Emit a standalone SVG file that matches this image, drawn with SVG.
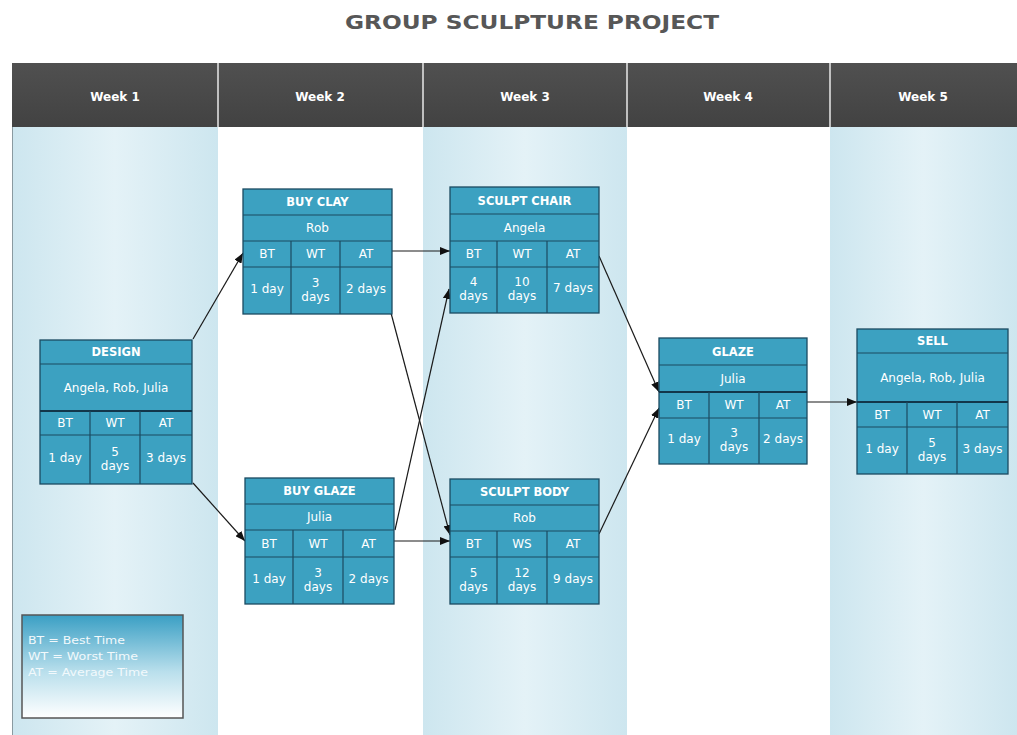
<svg xmlns="http://www.w3.org/2000/svg" width="1017" height="735" viewBox="0 0 1017 735">
<defs>
  <linearGradient id="colbg" x1="0" y1="0" x2="1" y2="0">
    <stop offset="0" stop-color="#cde6ef"/>
    <stop offset="0.5" stop-color="#e4f2f7"/>
    <stop offset="1" stop-color="#cde6ef"/>
  </linearGradient>
  <linearGradient id="legbg" x1="0" y1="0" x2="0" y2="1">
    <stop offset="0" stop-color="#3a9fc4"/>
    <stop offset="0.55" stop-color="#b9dfec"/>
    <stop offset="1" stop-color="#ffffff"/>
  </linearGradient>
  <linearGradient id="hdr" x1="0" y1="0" x2="0" y2="1">
    <stop offset="0" stop-color="#505050"/>
    <stop offset="1" stop-color="#424242"/>
  </linearGradient>
  <marker id="arr" markerUnits="userSpaceOnUse" markerWidth="10" markerHeight="8" refX="10" refY="4" orient="auto">
    <path d="M0,0 L10,4 L0,8 z" fill="#111"/>
  </marker>
</defs>
<style>
  .cell { fill: #3ca1c1; stroke: #1b4a61; stroke-width: 1.3; }
  .ln { stroke: #1b4a61; stroke-width: 1.2; }
  .lnb { stroke: #12364a; stroke-width: 2; }
  .t { fill: #ffffff; font-family: "DejaVu Sans", Verdana, sans-serif; font-size: 12px; text-anchor: middle; }
  .tb { font-weight: bold; font-size: 11.5px; }
  .wk { fill: #ffffff; font-family: "DejaVu Sans", Verdana, sans-serif; font-size: 12px; font-weight: bold; text-anchor: middle; }
  .con { stroke: #1a1a1a; stroke-width: 1.2; fill: none; marker-end: url(#arr); }
  .leg { fill: #f2f9fc; font-family: "DejaVu Sans", Verdana, sans-serif; font-size: 10.5px; }
</style>

<rect x="0" y="0" width="1017" height="735" fill="#ffffff"/>
<text x="532" y="29" fill="#575757" font-family="DejaVu Sans, Verdana, sans-serif" font-size="20" font-weight="bold" text-anchor="middle" textLength="374" lengthAdjust="spacingAndGlyphs">GROUP SCULPTURE PROJECT</text>

<g id="columns">
  <rect x="12" y="127" width="206" height="608" fill="url(#colbg)"/>
  <rect x="218" y="127" width="205" height="608" fill="#ffffff"/>
  <rect x="423" y="127" width="204" height="608" fill="url(#colbg)"/>
  <rect x="627" y="127" width="203" height="608" fill="#ffffff"/>
  <rect x="830" y="127" width="187" height="608" fill="url(#colbg)"/>
  <line x1="12.5" y1="63" x2="12.5" y2="735" stroke="#8a9aa0" stroke-width="1"/>
</g>

<g id="header">
  <rect x="12" y="63" width="1005" height="64" fill="url(#hdr)"/>
  <g stroke="#e8e8e8" stroke-width="1.5">
    <line x1="218" y1="63" x2="218" y2="127"/>
    <line x1="423" y1="63" x2="423" y2="127"/>
    <line x1="627" y1="63" x2="627" y2="127"/>
    <line x1="830" y1="63" x2="830" y2="127"/>
  </g>
  <text class="wk" x="115" y="101">Week 1</text>
  <text class="wk" x="320" y="101">Week 2</text>
  <text class="wk" x="525" y="101">Week 3</text>
  <text class="wk" x="728" y="101">Week 4</text>
  <text class="wk" x="923" y="101">Week 5</text>
</g>

<g id="connectors">
  <line class="con" x1="193" y1="339" x2="243" y2="253"/>
  <line class="con" x1="193" y1="483" x2="245" y2="541"/>
  <line class="con" x1="392" y1="251" x2="450" y2="251"/>
  <line class="con" x1="391" y1="313" x2="450" y2="535"/>
  <line class="con" x1="394" y1="541" x2="450" y2="541"/>
  <line class="con" x1="395" y1="530" x2="449" y2="289"/>
  <line class="con" x1="599" y1="256" x2="659" y2="392"/>
  <line class="con" x1="599" y1="534" x2="659" y2="408"/>
  <line class="con" x1="807" y1="402" x2="857" y2="402"/>
</g>

<g id="design">
  <rect class="cell" x="40" y="340" width="152" height="144"/>
  <line class="ln" x1="40" y1="364" x2="192" y2="364"/>
  <line class="lnb" x1="40" y1="411" x2="192" y2="411"/>
  <line class="ln" x1="40" y1="435" x2="192" y2="435"/>
  <line class="ln" x1="90" y1="411" x2="90" y2="484"/>
  <line class="ln" x1="140" y1="411" x2="140" y2="484"/>
  <text class="t tb" x="116" y="356">DESIGN</text>
  <text class="t" x="116" y="392">Angela, Rob, Julia</text>
  <text class="t" x="65" y="427">BT</text>
  <text class="t" x="115" y="427">WT</text>
  <text class="t" x="166" y="427">AT</text>
  <text class="t" x="65" y="462">1 day</text>
  <text class="t" x="115" y="455.5">5<tspan x="115" dy="14">days</tspan></text>
  <text class="t" x="166" y="462">3 days</text>
</g>

<g id="buy-clay">
  <rect class="cell" x="243" y="189" width="149" height="125"/>
  <line class="ln" x1="243" y1="215" x2="392" y2="215"/>
  <line class="ln" x1="243" y1="241" x2="392" y2="241"/>
  <line class="ln" x1="243" y1="267" x2="392" y2="267"/>
  <line class="ln" x1="291" y1="241" x2="291" y2="314"/>
  <line class="ln" x1="340" y1="241" x2="340" y2="314"/>
  <text class="t tb" x="317.5" y="206">BUY CLAY</text>
  <text class="t" x="317.5" y="232">Rob</text>
  <text class="t" x="267" y="258">BT</text>
  <text class="t" x="315.5" y="258">WT</text>
  <text class="t" x="366" y="258">AT</text>
  <text class="t" x="267" y="292.5">1 day</text>
  <text class="t" x="315.5" y="286.5">3<tspan x="315.5" dy="14">days</tspan></text>
  <text class="t" x="366" y="292.5">2 days</text>
</g>

<g id="sculpt-chair">
  <rect class="cell" x="450" y="187" width="149" height="126"/>
  <line class="ln" x1="450" y1="214" x2="599" y2="214"/>
  <line class="ln" x1="450" y1="241" x2="599" y2="241"/>
  <line class="ln" x1="450" y1="267" x2="599" y2="267"/>
  <line class="ln" x1="497" y1="241" x2="497" y2="313"/>
  <line class="ln" x1="547" y1="241" x2="547" y2="313"/>
  <text class="t tb" x="524.5" y="205">SCULPT CHAIR</text>
  <text class="t" x="524.5" y="232">Angela</text>
  <text class="t" x="473.5" y="258">BT</text>
  <text class="t" x="522" y="258">WT</text>
  <text class="t" x="573" y="258">AT</text>
  <text class="t" x="473.5" y="286">4<tspan x="473.5" dy="14">days</tspan></text>
  <text class="t" x="522" y="286">10<tspan x="522" dy="14">days</tspan></text>
  <text class="t" x="573" y="292">7 days</text>
</g>

<g id="buy-glaze">
  <rect class="cell" x="245" y="478" width="149" height="126"/>
  <line class="ln" x1="245" y1="504" x2="394" y2="504"/>
  <line class="ln" x1="245" y1="530" x2="394" y2="530"/>
  <line class="ln" x1="245" y1="557" x2="394" y2="557"/>
  <line class="ln" x1="293" y1="530" x2="293" y2="604"/>
  <line class="ln" x1="343" y1="530" x2="343" y2="604"/>
  <text class="t tb" x="319.5" y="495">BUY GLAZE</text>
  <text class="t" x="319.5" y="521">Julia</text>
  <text class="t" x="269" y="548">BT</text>
  <text class="t" x="318" y="548">WT</text>
  <text class="t" x="368.5" y="548">AT</text>
  <text class="t" x="269" y="582.5">1 day</text>
  <text class="t" x="318" y="576.5">3<tspan x="318" dy="14">days</tspan></text>
  <text class="t" x="368.5" y="582.5">2 days</text>
</g>

<g id="sculpt-body">
  <rect class="cell" x="450" y="479" width="149" height="125"/>
  <line class="ln" x1="450" y1="505" x2="599" y2="505"/>
  <line class="ln" x1="450" y1="531" x2="599" y2="531"/>
  <line class="ln" x1="450" y1="557" x2="599" y2="557"/>
  <line class="ln" x1="497" y1="531" x2="497" y2="604"/>
  <line class="ln" x1="547" y1="531" x2="547" y2="604"/>
  <text class="t tb" x="524.5" y="496">SCULPT BODY</text>
  <text class="t" x="524.5" y="522">Rob</text>
  <text class="t" x="473.5" y="548">BT</text>
  <text class="t" x="522" y="548">WS</text>
  <text class="t" x="573" y="548">AT</text>
  <text class="t" x="473.5" y="576.5">5<tspan x="473.5" dy="14">days</tspan></text>
  <text class="t" x="522" y="576.5">12<tspan x="522" dy="14">days</tspan></text>
  <text class="t" x="573" y="582.5">9 days</text>
</g>

<g id="glaze">
  <rect class="cell" x="659" y="338" width="148" height="126"/>
  <line class="ln" x1="659" y1="365" x2="807" y2="365"/>
  <line class="lnb" x1="659" y1="392" x2="807" y2="392"/>
  <line class="ln" x1="659" y1="418" x2="807" y2="418"/>
  <line class="ln" x1="709" y1="392" x2="709" y2="464"/>
  <line class="ln" x1="759" y1="392" x2="759" y2="464"/>
  <text class="t tb" x="733" y="356">GLAZE</text>
  <text class="t" x="733" y="383">Julia</text>
  <text class="t" x="684" y="409">BT</text>
  <text class="t" x="734" y="409">WT</text>
  <text class="t" x="783" y="409">AT</text>
  <text class="t" x="684" y="443">1 day</text>
  <text class="t" x="734" y="437">3<tspan x="734" dy="14">days</tspan></text>
  <text class="t" x="783" y="443">2 days</text>
</g>

<g id="sell">
  <rect class="cell" x="857" y="329" width="151" height="145"/>
  <line class="ln" x1="857" y1="353" x2="1008" y2="353"/>
  <line class="lnb" x1="857" y1="402" x2="1008" y2="402"/>
  <line class="ln" x1="857" y1="427" x2="1008" y2="427"/>
  <line class="ln" x1="907" y1="402" x2="907" y2="474"/>
  <line class="ln" x1="957" y1="402" x2="957" y2="474"/>
  <text class="t tb" x="932.5" y="345">SELL</text>
  <text class="t" x="932.5" y="382">Angela, Rob, Julia</text>
  <text class="t" x="882" y="419">BT</text>
  <text class="t" x="932" y="419">WT</text>
  <text class="t" x="982.5" y="419">AT</text>
  <text class="t" x="882" y="452.5">1 day</text>
  <text class="t" x="932" y="446.5">5<tspan x="932" dy="14">days</tspan></text>
  <text class="t" x="982.5" y="452.5">3 days</text>
</g>

<g id="legend">
  <rect x="22" y="615" width="161" height="103" fill="url(#legbg)" stroke="#555" stroke-width="1.5"/>
  <text class="leg" x="28" y="644" textLength="97" lengthAdjust="spacingAndGlyphs">BT = Best Time</text>
  <text class="leg" x="28" y="660" textLength="110" lengthAdjust="spacingAndGlyphs">WT = Worst Time</text>
  <text class="leg" x="28" y="676" textLength="120" lengthAdjust="spacingAndGlyphs">AT = Average Time</text>
</g>
</svg>
